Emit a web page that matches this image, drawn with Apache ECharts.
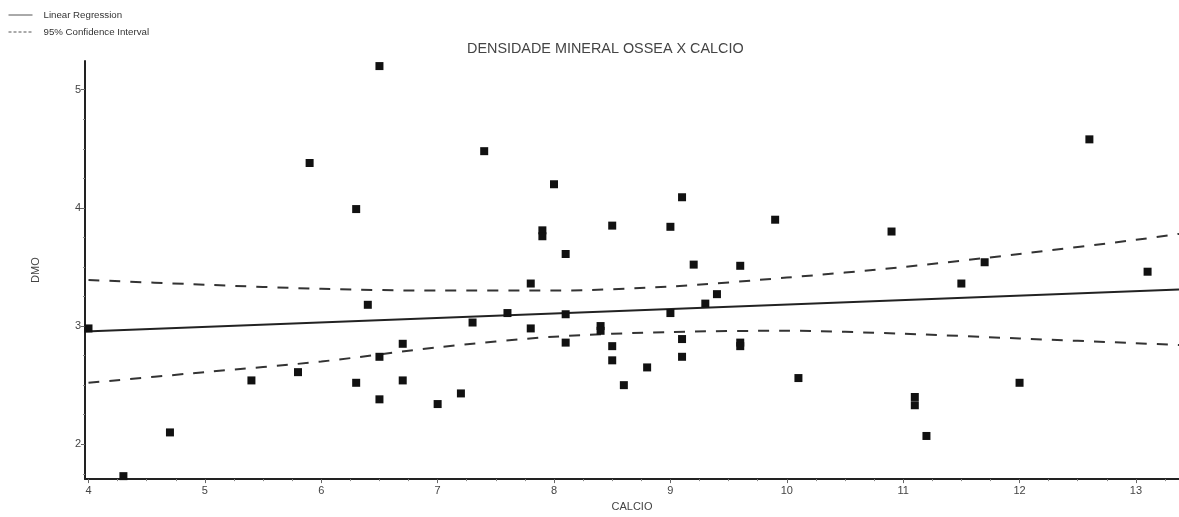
<!DOCTYPE html>
<html>
<head>
<meta charset="utf-8">
<script src="https://cdn.jsdelivr.net/npm/echarts@6/dist/echarts.min.js"></script>
<style>html,body{margin:0;padding:0;background:#fff;}#c{width:1179px;height:517px;}</style>
</head>
<body>
<div id="c"></div>
<script>
// ---- data ----
var calcio = [4.0, 4.3, 4.7, 5.4, 5.8, 5.9, 6.3, 6.3, 6.4, 6.5, 6.5, 6.5, 6.7, 6.7, 7.0, 7.2, 7.3, 7.4, 7.6, 7.8, 7.8, 7.9, 7.9, 8.0, 8.1, 8.1, 8.1, 8.4, 8.4, 8.5, 8.5, 8.5, 8.6, 8.8, 9.0, 9.0, 9.1, 9.1, 9.1, 9.2, 9.3, 9.4, 9.6, 9.6, 9.6, 9.9, 10.1, 10.9, 11.1, 11.1, 11.2, 11.5, 11.7, 12.0, 12.6, 13.1];
var dmo = [2.98, 1.73, 2.10, 2.54, 2.61, 4.38, 3.99, 2.52, 3.18, 5.20, 2.74, 2.38, 2.85, 2.54, 2.34, 2.43, 3.03, 4.48, 3.11, 3.36, 2.98, 3.81, 3.76, 4.20, 3.61, 3.10, 2.86, 3.00, 2.96, 3.85, 2.83, 2.71, 2.50, 2.65, 3.84, 3.11, 4.09, 2.89, 2.74, 3.52, 3.19, 3.27, 3.51, 2.86, 2.83, 3.90, 2.56, 3.80, 2.40, 2.33, 2.07, 3.36, 3.54, 2.52, 4.58, 3.46];
var regX = [3.97, 13.37];
var regY = [2.954, 3.31];
var ciX = [4, 5, 6, 7, 8, 9, 10, 11, 12, 13, 13.37];
var ciUpper = [3.39, 3.35, 3.315, 3.30, 3.30, 3.335, 3.41, 3.50, 3.61, 3.73, 3.78];
var ciLower = [2.52, 2.61, 2.70, 2.82, 2.91, 2.95, 2.96, 2.935, 2.895, 2.855, 2.84];
var xTicks = [4, 5, 6, 7, 8, 9, 10, 11, 12, 13];
var yTicks = [2, 3, 4, 5];
var xMinorTicks = [4.25, 4.5, 4.75, 5.25, 5.5, 5.75, 6.25, 6.5, 6.75, 7.25, 7.5, 7.75, 8.25, 8.5, 8.75, 9.25, 9.5, 9.75, 10.25, 10.5, 10.75, 11.25, 11.5, 11.75, 12.25, 12.5, 12.75, 13.25];
var yMinorTicks = [1.75, 2.25, 2.5, 2.75, 3.25, 3.5, 3.75, 4.25, 4.5, 4.75, 5.25];
var titleText = 'DENSIDADE MINERAL OSSEA X CALCIO';
var xName = 'CALCIO';
var yName = 'DMO';
var legReg = 'Linear Regression';
var legCI = '95% Confidence Interval';

function zip(a, b) { return a.map(function (v, i) { return [v, b[i]]; }); }

var FONT = '"Liberation Sans", Arial, sans-serif';
var XMIN = 3.97, XMAX = 13.37, YMIN = 1.705, YMAX = 5.243;

var chart = echarts.init(document.getElementById('c'), null, {renderer: 'canvas'});
chart.setOption({
  animation: false,
  backgroundColor: '#fff',
  title: {
    text: titleText,
    left: 462, top: 37,
    textStyle: {fontFamily: FONT, fontSize: 14.4, fontWeight: 'normal', color: '#444'}
  },
  legend: {
    data: [
      {name: legReg, lineStyle: {type: 'solid', width: 1, color: '#555'}},
      {name: legCI, lineStyle: {type: [3, 2], width: 1, color: '#555'}}
    ],
    orient: 'vertical',
    left: 8, top: 10, padding: 0,
    itemWidth: 24, itemHeight: 10, itemGap: 7,
    itemStyle: {opacity: 0},
    textStyle: {fontFamily: FONT, fontSize: 9.7, color: '#333', padding: [0, 0, 0, 6]},
    selectedMode: false
  },
  grid: {left: 85, right: 0, top: 61, bottom: 33, containLabel: false},
  xAxis: [{
    type: 'value', min: XMIN, max: XMAX, position: 'bottom',
    name: xName, nameLocation: 'middle', nameGap: 20,
    nameTextStyle: {fontFamily: FONT, fontSize: 11, color: '#444'},
    axisLine: {show: true, onZero: false, lineStyle: {color: '#222', width: 2}},
    axisTick: {show: true, length: 4, customValues: xTicks, lineStyle: {color: '#666'}},
    axisLabel: {customValues: xTicks, margin: 6, fontFamily: FONT, fontSize: 11, color: '#444'},
    splitLine: {show: false}
  }, {
    type: 'value', min: XMIN, max: XMAX, position: 'bottom',
    axisLine: {show: false},
    axisTick: {show: true, length: 2, customValues: xMinorTicks, lineStyle: {color: '#888'}},
    axisLabel: {show: false},
    splitLine: {show: false}
  }],
  yAxis: [{
    type: 'value', min: YMIN, max: YMAX, position: 'left',
    name: yName, nameLocation: 'middle', nameGap: 44,
    nameTextStyle: {fontFamily: FONT, fontSize: 11, color: '#444'},
    axisLine: {show: true, onZero: false, lineStyle: {color: '#222', width: 2}},
    axisTick: {show: true, length: 4, customValues: yTicks, lineStyle: {color: '#666'}},
    axisLabel: {customValues: yTicks, margin: 4, fontFamily: FONT, fontSize: 11, color: '#444'},
    splitLine: {show: false}
  }, {
    type: 'value', min: YMIN, max: YMAX, position: 'left',
    axisLine: {show: false},
    axisTick: {show: true, length: 2, customValues: yMinorTicks, lineStyle: {color: '#888'}},
    axisLabel: {show: false},
    splitLine: {show: false}
  }],
  series: [{
    type: 'scatter',
    name: 'data',
    data: zip(calcio, dmo),
    symbol: 'rect', symbolSize: 8,
    itemStyle: {color: '#111', opacity: 1},
    clip: false, z: 5
  }, {
    type: 'line', name: legReg,
    data: zip(regX, regY),
    symbol: 'none', showSymbol: false,
    itemStyle: {color: '#222'},
    lineStyle: {color: '#222', width: 2, type: 'solid'},
    z: 4
  }, {
    type: 'line', name: legCI,
    data: zip(ciX, ciUpper),
    symbol: 'none', showSymbol: false, smooth: 0.3,
    itemStyle: {color: '#333'},
    lineStyle: {color: '#333', width: 2, type: [11, 10]},
    z: 3
  }, {
    type: 'line', name: legCI,
    data: zip(ciX, ciLower),
    symbol: 'none', showSymbol: false, smooth: 0.3,
    itemStyle: {color: '#333'},
    lineStyle: {color: '#333', width: 2, type: [11, 10]},
    z: 3
  }]
});
</script>
</body>
</html>
